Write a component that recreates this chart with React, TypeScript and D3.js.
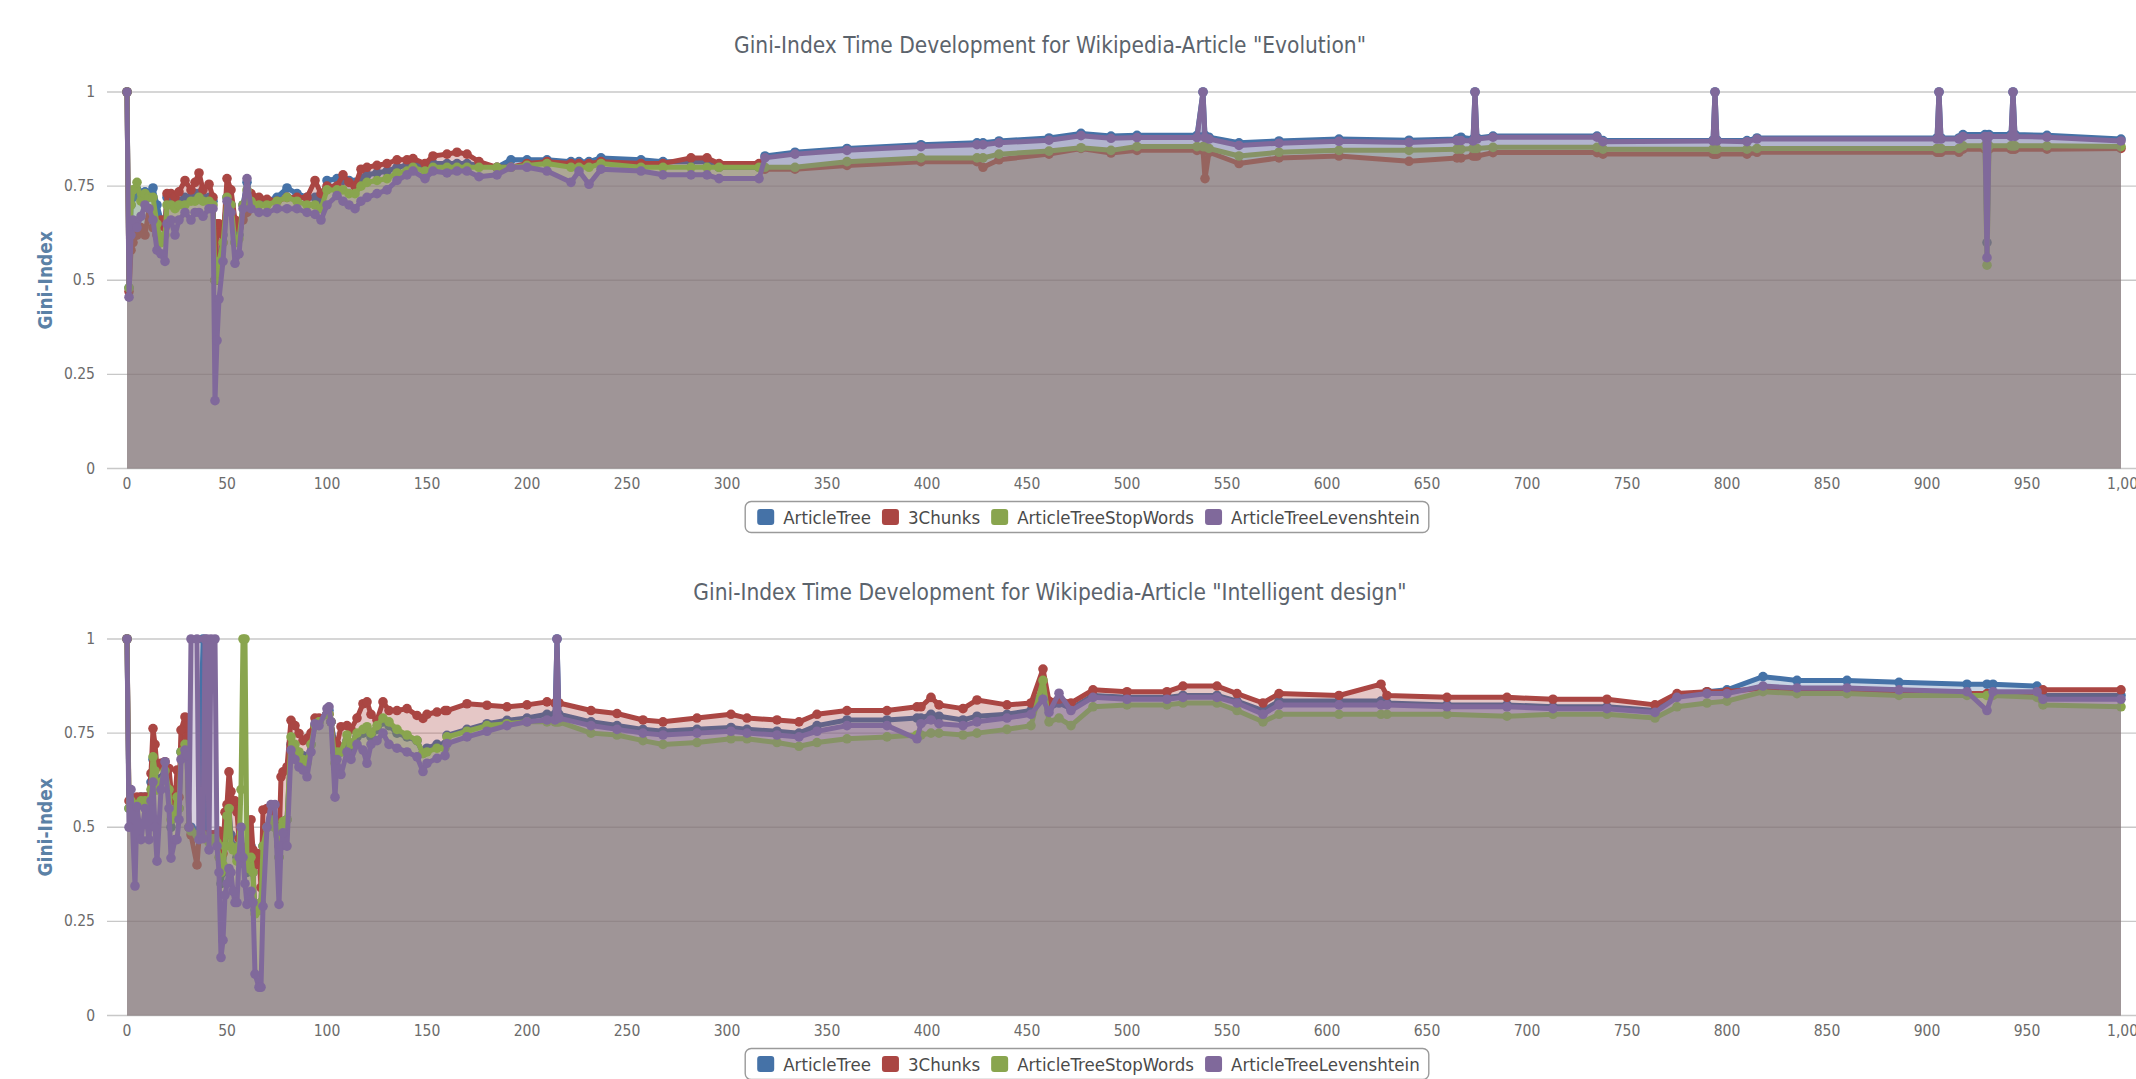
import { useLayoutEffect, useRef, useState } from 'react'
import * as d3 from 'd3'

// series (same order in both charts)
const SERIES_NAMES = ['ArticleTree', '3Chunks', 'ArticleTreeStopWords', 'ArticleTreeLevenshtein']
const SERIES_COLORS = ['#4572A7', '#AA4643', '#89A54E', '#80699B']

const X_TICKS = [0, 50, 100, 150, 200, 250, 300, 350, 400, 450, 500, 550, 600, 650, 700, 750, 800, 850, 900, 950, 1000]
const Y_TICKS = [0, 0.25, 0.5, 0.75, 1]

// "Evolution" - revision index and Gini values
const evoRevision = [0, 1, 2, 3, 5, 7, 9, 11, 13, 15, 17, 19, 20, 22, 24, 26, 29, 32, 34, 36, 38, 41, 43, 44, 45, 46, 48, 50, 52, 54, 56, 58, 60, 62, 66, 70, 75, 80, 85, 90, 94, 97, 100, 105, 108, 111, 114, 117, 120, 125, 130, 135, 140, 143, 149, 153, 160, 165, 170, 176, 185, 192, 200, 210, 222, 226, 231, 237, 257, 268, 282, 290, 296, 316, 319, 334, 360, 397, 425, 428, 436, 461, 477, 492, 505, 535, 538, 539, 541, 556, 576, 606, 641, 665, 667, 673, 674, 675, 683, 735, 738, 793, 794, 795, 810, 815, 905, 906, 907, 916, 918, 929, 930, 931, 942, 943, 944, 960, 997]
const evoArticleTree = [1, 0.48, 0.7, 0.72, 0.74, 0.73, 0.735, 0.73, 0.745, 0.7, 0.66, 0.65, 0.72, 0.72, 0.71, 0.71, 0.72, 0.72, 0.73, 0.73, 0.72, 0.72, 0.71, 0.5, 0.5, 0.55, 0.62, 0.72, 0.7, 0.6, 0.62, 0.7, 0.76, 0.72, 0.71, 0.71, 0.72, 0.745, 0.73, 0.72, 0.72, 0.71, 0.765, 0.77, 0.765, 0.765, 0.76, 0.77, 0.78, 0.785, 0.79, 0.8, 0.805, 0.81, 0.8, 0.81, 0.81, 0.81, 0.81, 0.805, 0.8, 0.82, 0.82, 0.82, 0.815, 0.815, 0.815, 0.825, 0.82, 0.815, 0.815, 0.815, 0.8, 0.8, 0.83, 0.84, 0.85, 0.86, 0.865, 0.865, 0.87, 0.878, 0.89, 0.883, 0.885, 0.885, 1, 0.885, 0.88, 0.865, 0.87, 0.875, 0.872, 0.875, 0.88, 0.875, 1, 0.878, 0.883, 0.883, 0.871, 0.872, 1, 0.872, 0.871, 0.878, 0.878, 1, 0.878, 0.878, 0.887, 0.887, 0.6, 0.887, 0.887, 1, 0.887, 0.885, 0.875]
const evo3Chunks = [1, 0.47, 0.58, 0.6, 0.62, 0.64, 0.62, 0.69, 0.64, 0.62, 0.66, 0.64, 0.73, 0.73, 0.72, 0.735, 0.765, 0.74, 0.76, 0.785, 0.74, 0.755, 0.72, 0.5, 0.65, 0.65, 0.6, 0.77, 0.74, 0.66, 0.64, 0.66, 0.68, 0.73, 0.72, 0.715, 0.71, 0.72, 0.72, 0.72, 0.765, 0.73, 0.75, 0.75, 0.78, 0.76, 0.75, 0.795, 0.8, 0.805, 0.81, 0.82, 0.82, 0.823, 0.81, 0.83, 0.835, 0.84, 0.835, 0.815, 0.8, 0.8, 0.81, 0.815, 0.81, 0.81, 0.81, 0.815, 0.81, 0.81, 0.825, 0.825, 0.81, 0.81, 0.795, 0.795, 0.805, 0.815, 0.815, 0.8, 0.82, 0.835, 0.85, 0.838, 0.845, 0.845, 0.845, 0.77, 0.84, 0.81, 0.825, 0.83, 0.816, 0.825, 0.825, 0.83, 0.83, 0.83, 0.839, 0.839, 0.835, 0.835, 0.835, 0.835, 0.835, 0.84, 0.84, 0.84, 0.84, 0.84, 0.848, 0.848, 0.848, 0.848, 0.848, 0.848, 0.848, 0.848, 0.85]
const evoStopWords = [1, 0.48, 0.7, 0.74, 0.76, 0.71, 0.73, 0.72, 0.72, 0.65, 0.6, 0.62, 0.7, 0.7, 0.69, 0.7, 0.7, 0.71, 0.71, 0.72, 0.71, 0.71, 0.7, 0.5, 0.52, 0.55, 0.6, 0.72, 0.7, 0.6, 0.61, 0.7, 0.74, 0.71, 0.7, 0.7, 0.71, 0.72, 0.71, 0.7, 0.7, 0.69, 0.74, 0.74, 0.74, 0.73, 0.73, 0.75, 0.76, 0.765, 0.77, 0.785, 0.79, 0.8, 0.79, 0.8, 0.8, 0.8, 0.8, 0.8, 0.8, 0.8, 0.805, 0.81, 0.8, 0.8, 0.8, 0.81, 0.8, 0.8, 0.8, 0.8, 0.8, 0.8, 0.8, 0.8, 0.815, 0.825, 0.825, 0.825, 0.835, 0.843, 0.852, 0.845, 0.855, 0.855, 0.855, 0.855, 0.85, 0.83, 0.84, 0.845, 0.845, 0.848, 0.848, 0.85, 0.85, 0.85, 0.853, 0.853, 0.848, 0.848, 0.848, 0.848, 0.848, 0.85, 0.85, 0.85, 0.85, 0.85, 0.857, 0.857, 0.54, 0.857, 0.857, 0.857, 0.857, 0.857, 0.855]
const evoLevenshtein = [1, 0.455, 0.62, 0.66, 0.64, 0.67, 0.7, 0.69, 0.66, 0.58, 0.57, 0.55, 0.65, 0.66, 0.62, 0.66, 0.68, 0.66, 0.68, 0.68, 0.67, 0.69, 0.69, 0.18, 0.34, 0.45, 0.55, 0.71, 0.68, 0.545, 0.57, 0.69, 0.77, 0.69, 0.68, 0.68, 0.69, 0.69, 0.69, 0.68, 0.675, 0.66, 0.7, 0.725, 0.71, 0.7, 0.69, 0.71, 0.72, 0.73, 0.74, 0.765, 0.78, 0.79, 0.77, 0.79, 0.785, 0.79, 0.79, 0.775, 0.78, 0.8, 0.8, 0.79, 0.76, 0.79, 0.755, 0.795, 0.79, 0.78, 0.78, 0.78, 0.77, 0.77, 0.825, 0.835, 0.845, 0.855, 0.86, 0.86, 0.865, 0.872, 0.884, 0.877, 0.879, 0.879, 1, 0.879, 0.875, 0.858, 0.864, 0.869, 0.866, 0.871, 0.871, 0.87, 1, 0.875, 0.88, 0.88, 0.868, 0.87, 1, 0.87, 0.868, 0.875, 0.875, 1, 0.875, 0.875, 0.882, 0.882, 0.56, 0.882, 0.882, 1, 0.882, 0.88, 0.87]

// "Intelligent design"
const idRevision = [0, 1, 2, 4, 5, 7, 9, 11, 12, 13, 14, 15, 17, 19, 21, 22, 24, 25, 26, 27, 29, 30, 31, 32, 35, 36, 38, 39, 40, 41, 42, 44, 45, 46, 47, 48, 49, 50, 51, 52, 53, 54, 55, 56, 57, 58, 59, 60, 61, 62, 63, 64, 66, 67, 68, 70, 72, 74, 76, 77, 78, 80, 82, 84, 86, 88, 90, 92, 94, 96, 100, 101, 102, 104, 105, 107, 110, 112, 115, 118, 120, 122, 125, 128, 131, 135, 140, 145, 148, 150, 155, 159, 160, 170, 180, 190, 200, 210, 214, 215, 216, 232, 245, 258, 268, 285, 302, 310, 325, 336, 345, 360, 380, 395, 397, 402, 406, 418, 425, 440, 452, 458, 461, 466, 472, 483, 500, 520, 528, 545, 555, 568, 576, 606, 627, 630, 660, 690, 713, 740, 764, 775, 790, 800, 818, 835, 860, 886, 920, 930, 933, 955, 958, 997]
const idArticleTree = [1, 0.55, 0.58, 0.5, 0.57, 0.58, 0.58, 0.58, 0.62, 0.68, 0.66, 0.6, 0.63, 0.66, 0.6, 0.5, 0.54, 0.6, 0.55, 0.7, 0.72, 0.7, 0.5, 0.5, 0.49, 0.48, 1, 0.48, 0.48, 0.47, 0.48, 0.48, 0.47, 0.45, 0.35, 0.38, 0.45, 0.5, 0.55, 0.48, 0.45, 0.44, 0.42, 0.45, 0.5, 0.42, 0.4, 0.38, 0.4, 0.45, 0.38, 0.28, 0.28, 0.3, 0.45, 0.5, 0.52, 0.5, 0.42, 0.5, 0.515, 0.52, 0.72, 0.7, 0.69, 0.69, 0.68, 0.72, 0.77, 0.78, 0.8, 0.81, 0.78, 0.72, 0.72, 0.7, 0.73, 0.71, 0.74, 0.75, 0.76, 0.74, 0.76, 0.78, 0.77, 0.75, 0.74, 0.73, 0.696, 0.71, 0.72, 0.72, 0.744, 0.76, 0.775, 0.784, 0.79, 0.8, 0.8, 1, 0.8, 0.78, 0.77, 0.76, 0.755, 0.76, 0.765, 0.76, 0.755, 0.75, 0.77, 0.785, 0.785, 0.79, 0.79, 0.8, 0.795, 0.785, 0.795, 0.8, 0.81, 0.87, 0.815, 0.83, 0.815, 0.85, 0.845, 0.845, 0.85, 0.85, 0.835, 0.81, 0.835, 0.835, 0.835, 0.83, 0.825, 0.825, 0.82, 0.82, 0.81, 0.85, 0.86, 0.865, 0.9, 0.89, 0.89, 0.885, 0.88, 0.88, 0.88, 0.875, 0.85, 0.85]
const id3Chunks = [1, 0.57, 0.58, 0.57, 0.58, 0.58, 0.58, 0.58, 0.643, 0.762, 0.72, 0.66, 0.67, 0.674, 0.656, 0.6, 0.57, 0.652, 0.58, 0.758, 0.793, 0.74, 0.5, 0.48, 0.4, 0.47, 0.47, 0.47, 0.48, 0.47, 0.48, 0.48, 0.48, 0.49, 0.47, 0.43, 0.54, 0.56, 0.647, 0.595, 0.568, 0.57, 0.54, 0.47, 0.45, 0.44, 0.43, 0.41, 0.43, 0.52, 0.44, 0.4, 0.43, 0.34, 0.546, 0.55, 0.55, 0.52, 0.45, 0.634, 0.647, 0.66, 0.784, 0.77, 0.749, 0.73, 0.736, 0.75, 0.79, 0.79, 0.8, 0.8, 0.78, 0.7, 0.72, 0.767, 0.77, 0.76, 0.79, 0.828, 0.833, 0.8, 0.784, 0.833, 0.81, 0.81, 0.815, 0.797, 0.789, 0.8, 0.806, 0.81, 0.81, 0.828, 0.824, 0.82, 0.825, 0.833, 0.83, 0.83, 0.83, 0.81, 0.802, 0.785, 0.78, 0.79, 0.8, 0.79, 0.785, 0.78, 0.8, 0.81, 0.81, 0.82, 0.82, 0.845, 0.825, 0.815, 0.838, 0.825, 0.83, 0.92, 0.835, 0.84, 0.83, 0.865, 0.86, 0.86, 0.875, 0.875, 0.855, 0.83, 0.855, 0.85, 0.88, 0.85, 0.845, 0.845, 0.84, 0.84, 0.825, 0.855, 0.86, 0.86, 0.87, 0.865, 0.865, 0.86, 0.855, 0.855, 0.855, 0.855, 0.865, 0.865]
const idStopWords = [1, 0.55, 0.57, 0.5, 0.56, 0.57, 0.57, 0.57, 0.6, 0.687, 0.65, 0.6, 0.62, 0.65, 0.6, 0.52, 0.54, 0.58, 0.55, 0.7, 0.72, 0.7, 0.5, 0.49, 0.48, 0.47, 0.48, 0.47, 0.47, 0.46, 0.47, 0.47, 0.46, 0.42, 0.38, 0.4, 0.45, 0.53, 0.55, 0.45, 0.44, 0.44, 0.41, 0.45, 0.6, 1, 1, 0.4, 0.39, 0.42, 0.38, 0.27, 0.28, 0.3, 0.45, 0.5, 0.52, 0.5, 0.42, 0.5, 0.515, 0.52, 0.74, 0.72, 0.7, 0.68, 0.67, 0.72, 0.77, 0.78, 0.8, 0.8, 0.78, 0.67, 0.7, 0.7, 0.745, 0.72, 0.75, 0.76, 0.767, 0.75, 0.77, 0.79, 0.78, 0.76, 0.745, 0.731, 0.696, 0.7, 0.71, 0.71, 0.74, 0.755, 0.77, 0.775, 0.78, 0.78, 0.78, 0.78, 0.78, 0.75, 0.745, 0.73, 0.72, 0.725, 0.735, 0.735, 0.725, 0.715, 0.725, 0.735, 0.74, 0.745, 0.745, 0.75, 0.75, 0.745, 0.75, 0.76, 0.77, 0.89, 0.78, 0.79, 0.77, 0.82, 0.825, 0.825, 0.83, 0.83, 0.81, 0.78, 0.8, 0.8, 0.8, 0.8, 0.8, 0.795, 0.8, 0.8, 0.79, 0.82, 0.83, 0.835, 0.86, 0.855, 0.855, 0.85, 0.85, 0.85, 0.85, 0.845, 0.825, 0.82]
const idLevenshtein = [1, 0.5, 0.6, 0.344, 0.555, 0.467, 0.55, 0.467, 0.57, 0.62, 0.5, 0.41, 0.6, 0.674, 0.55, 0.418, 0.467, 0.467, 0.52, 0.68, 0.705, 0.69, 0.5, 1, 1, 0.467, 0.47, 1, 1, 0.44, 1, 1, 0.45, 0.38, 0.154, 0.2, 0.32, 0.35, 0.39, 0.38, 0.33, 0.3, 0.3, 0.42, 0.5, 0.42, 0.35, 0.295, 0.32, 0.33, 0.3, 0.11, 0.075, 0.075, 0.29, 0.5, 0.56, 0.56, 0.295, 0.45, 0.485, 0.45, 0.705, 0.68, 0.66, 0.652, 0.634, 0.7, 0.775, 0.77, 0.815, 0.82, 0.78, 0.58, 0.68, 0.64, 0.7, 0.68, 0.72, 0.705, 0.67, 0.72, 0.73, 0.75, 0.72, 0.71, 0.7, 0.687, 0.648, 0.67, 0.683, 0.69, 0.722, 0.74, 0.755, 0.77, 0.78, 0.785, 0.785, 1, 0.79, 0.77, 0.76, 0.75, 0.745, 0.75, 0.755, 0.75, 0.745, 0.74, 0.755, 0.77, 0.77, 0.735, 0.775, 0.785, 0.775, 0.77, 0.78, 0.79, 0.8, 0.84, 0.805, 0.856, 0.81, 0.845, 0.84, 0.84, 0.845, 0.845, 0.83, 0.8, 0.825, 0.825, 0.825, 0.825, 0.82, 0.82, 0.815, 0.815, 0.805, 0.845, 0.855, 0.855, 0.875, 0.87, 0.87, 0.865, 0.86, 0.81, 0.86, 0.86, 0.84, 0.84]

const FONT = "'DejaVu Sans Condensed', 'DejaVu Sans', sans-serif"
const PLOT_LEFT = 107
const PLOT_RIGHT = 2136
const PLOT_H = 376.5

function Legend({ top }: { top: number }) {
  const refs = useRef<(SVGTextElement | null)[]>([])
  const [widths, setWidths] = useState<number[] | null>(null)

  useLayoutEffect(() => {
    setWidths(refs.current.map(t => (t ? t.getComputedTextLength() : 0)))
  }, [])

  const w = widths ?? SERIES_NAMES.map(n => n.length * 9)
  const sym = 17, gap = 9, spacing = 11, padL = 12, padR = 9
  const total = padL + d3.sum(w) + SERIES_NAMES.length * (sym + gap) + (SERIES_NAMES.length - 1) * spacing + padR
  const left = 1087 - total / 2
  let cursor = left + padL

  return (
    <g>
      <rect x={left} y={top} width={total} height={31} rx={6} fill="white" stroke="#9a9a9a" strokeWidth={1.4} />
      {SERIES_NAMES.map((name, i) => {
        const x0 = cursor
        cursor += sym + gap + w[i] + spacing
        return (
          <g key={name}>
            <rect x={x0} y={top + 7.5} width={sym} height={16} rx={3} fill={SERIES_COLORS[i]} />
            <text
              ref={el => { refs.current[i] = el }}
              x={x0 + sym + gap}
              y={top + 22}
              fontFamily={FONT}
              fontSize={18.5}
              fill="#4a4a4a"
            >
              {name}
            </text>
          </g>
        )
      })}
    </g>
  )
}

function GiniChart({ title, revisions, series, top }: { title: string, revisions: number[], series: number[][], top: number }) {
  const bottom = top + PLOT_H
  const x = d3.scaleLinear().domain([-10, 1004.5]).range([PLOT_LEFT, PLOT_RIGHT])
  const y = d3.scaleLinear().domain([0, 1]).range([bottom, top])

  const area = d3.area<number>()
    .x((_, i) => x(revisions[i]))
    .y0(y(0))
    .y1(d => y(d))
  const line = d3.line<number>()
    .x((_, i) => x(revisions[i]))
    .y(d => y(d))

  return (
    <g>
      <text x={1050} y={top - 39} textAnchor="middle" fontFamily={FONT} fontSize={22.5} fill="#5b636c">
        {title}
      </text>

      {/* grid */}
      {Y_TICKS.map(t => (
        <g key={t}>
          <line x1={PLOT_LEFT} x2={PLOT_RIGHT} y1={y(t)} y2={y(t)} stroke="#c8c8c8" strokeWidth={1.3} />
          <text x={95} y={y(t) + 5} textAnchor="end" fontFamily={FONT} fontSize={15.5} fill="#6b6b6b">
            {String(t)}
          </text>
        </g>
      ))}

      {/* series: area, line and markers, drawn in legend order */}
      {series.map((values, s) => (
        <g key={SERIES_NAMES[s]}>
          <path d={area(values) ?? ''} fill={SERIES_COLORS[s]} fillOpacity={0.3} />
          <path d={line(values) ?? ''} fill="none" stroke={SERIES_COLORS[s]} strokeWidth={5} strokeLinejoin="round" strokeLinecap="round" />
          {values.map((v, i) => (
            <circle key={i} cx={x(revisions[i])} cy={y(v)} r={4.8} fill={SERIES_COLORS[s]} />
          ))}
        </g>
      ))}

      {X_TICKS.map(t => (
        <text key={t} x={x(t)} y={bottom + 20} textAnchor="middle" fontFamily={FONT} fontSize={15.5} fill="#6b6b6b">
          {d3.format(',')(t)}
        </text>
      ))}

      <text
        transform={`translate(45, ${top + PLOT_H / 2}) rotate(-90)`}
        textAnchor="middle"
        dy="0.35em"
        fontFamily={FONT}
        fontSize={19}
        fontWeight="bold"
        fill="#5b81a6"
      >
        Gini-Index
      </text>

      <Legend top={bottom + 33} />
    </g>
  )
}

export default function App() {
  return (
    <svg width={2136} height={1079} style={{ position: 'absolute', left: 0, top: 0, background: 'white' }}>
      <rect width={2136} height={1079} fill="white" />
      <GiniChart
        title={'Gini-Index Time Development for Wikipedia-Article "Evolution"'}
        revisions={evoRevision}
        series={[evoArticleTree, evo3Chunks, evoStopWords, evoLevenshtein]}
        top={92}
      />
      <GiniChart
        title={'Gini-Index Time Development for Wikipedia-Article "Intelligent design"'}
        revisions={idRevision}
        series={[idArticleTree, id3Chunks, idStopWords, idLevenshtein]}
        top={639}
      />
    </svg>
  )
}
